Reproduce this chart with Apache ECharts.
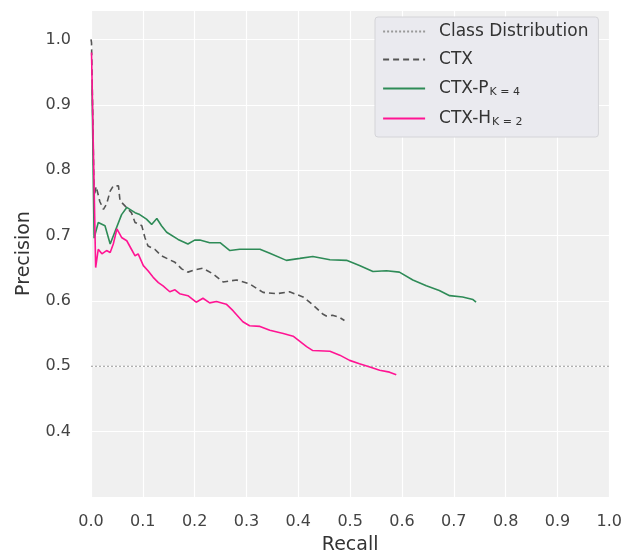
<!DOCTYPE html>
<html lang="en">
<head>
    <meta charset="UTF-8">
    <title>Precision-Recall</title>
    <script src="https://cdn.jsdelivr.net/npm/echarts@6/dist/echarts.min.js"></script>
</head>
<body style="margin:0;background:#fff;">
<div id="main" style="width: 625px;height:560px;"></div>
<script>
    // class distribution (baseline)
    var baseRecall = [0, 1];
    var basePrec = [0.5, 0.5];

    // CTX
    var ctxRecall = [0.0, 0.001, 0.006, 0.010, 0.017, 0.024, 0.030, 0.037, 0.043, 0.053, 0.056, 0.066, 0.078, 0.085, 0.098, 0.104, 0.110, 0.123, 0.136, 0.149, 0.162, 0.175, 0.187, 0.203, 0.216, 0.236, 0.255, 0.281, 0.306, 0.332, 0.358, 0.383, 0.409, 0.428, 0.447, 0.454, 0.466, 0.479, 0.489];
    var ctxPrec = [1.0, 0.995, 0.76, 0.775, 0.752, 0.74, 0.748, 0.768, 0.776, 0.776, 0.753, 0.745, 0.735, 0.72, 0.715, 0.697, 0.684, 0.679, 0.669, 0.664, 0.659, 0.649, 0.644, 0.648, 0.65, 0.641, 0.629, 0.632, 0.626, 0.613, 0.611, 0.614, 0.606, 0.594, 0.58, 0.577, 0.578, 0.575, 0.57];

    // CTX-P (K=4)
    var pRecall = [0.002, 0.006, 0.014, 0.027, 0.037, 0.059, 0.069, 0.085, 0.094, 0.107, 0.117, 0.127, 0.136, 0.146, 0.168, 0.187, 0.200, 0.210, 0.229, 0.249, 0.268, 0.287, 0.326, 0.345, 0.377, 0.403, 0.428, 0.461, 0.493, 0.518, 0.544, 0.570, 0.595, 0.621, 0.647, 0.672, 0.692, 0.717, 0.737, 0.743];
    var pPrec = [0.93, 0.696, 0.72, 0.715, 0.687, 0.732, 0.743, 0.735, 0.732, 0.725, 0.717, 0.726, 0.715, 0.705, 0.694, 0.687, 0.693, 0.693, 0.689, 0.689, 0.677, 0.679, 0.679, 0.673, 0.662, 0.665, 0.668, 0.663, 0.662, 0.654, 0.645, 0.646, 0.644, 0.632, 0.623, 0.616, 0.608, 0.606, 0.602, 0.598];

    // CTX-H (K=2)
    var hRecall = [0.001, 0.009, 0.014, 0.021, 0.030, 0.037, 0.043, 0.050, 0.059, 0.069, 0.078, 0.085, 0.091, 0.101, 0.110, 0.120, 0.130, 0.139, 0.152, 0.162, 0.171, 0.187, 0.203, 0.216, 0.229, 0.242, 0.261, 0.274, 0.293, 0.306, 0.326, 0.345, 0.371, 0.390, 0.403, 0.416, 0.428, 0.461, 0.480, 0.499, 0.518, 0.538, 0.557, 0.576, 0.589];
    var hPrec = [0.98, 0.651, 0.679, 0.672, 0.677, 0.674, 0.687, 0.71, 0.697, 0.692, 0.679, 0.669, 0.672, 0.654, 0.646, 0.636, 0.628, 0.623, 0.614, 0.617, 0.611, 0.608, 0.598, 0.604, 0.597, 0.599, 0.595, 0.585, 0.568, 0.562, 0.561, 0.555, 0.55, 0.546, 0.538, 0.530, 0.524, 0.523, 0.517, 0.509, 0.504, 0.499, 0.494, 0.491, 0.487];

    var yTicks = [0.4, 0.5, 0.6, 0.7, 0.8, 0.9, 1.0];

    function pairs(xs, ys) {
        return xs.map(function (x, i) { return [x, ys[i]]; });
    }

    var myChart = echarts.init(document.getElementById('main'));

    var font = 'DejaVu Sans, sans-serif';

    var option = {
        backgroundColor: '#fff',
        animation: false,
        grid: {
            left: 91, right: 15, top: 10, bottom: 61,
            show: true, backgroundColor: '#f0f0f0', borderWidth: 0
        },
        legend: {
            orient: 'vertical',
            left: 375, top: 17,
            padding: [6, 10, 9, 7],
            backgroundColor: '#eaeaef',
            borderColor: '#d4d4d8',
            borderWidth: 1,
            borderRadius: 3,
            itemWidth: 42,
            itemHeight: 14,
            itemGap: 11,
            itemStyle: { opacity: 0 },
            lineStyle: { width: 2.2 },
            data: ['Class Distribution', 'CTX', 'CTX-P', 'CTX-H'],
            formatter: function (name) {
                if (name === 'CTX-P') return '{m|CTX-P}{s|K = 4}';
                if (name === 'CTX-H') return '{m|CTX-H}{s|K = 2}';
                return '{m|' + name + '}';
            },
            textStyle: {
                fontFamily: font,
                color: '#333',
                rich: {
                    m: { fontFamily: font, fontSize: 17, lineHeight: 20, color: '#333', padding: [0, 0, 0, 9] },
                    s: { fontFamily: font, fontSize: 11, lineHeight: 20, color: '#333', padding: [8, 0, 0, 1] }
                }
            }
        },
        xAxis: {
            type: 'value',
            min: 0, max: 1, interval: 0.1,
            name: 'Recall',
            nameLocation: 'middle',
            nameGap: 39,
            nameTextStyle: { fontFamily: font, fontSize: 19, color: '#333' },
            axisLine: { show: false },
            axisTick: { show: false },
            axisLabel: {
                margin: 17, fontFamily: font, fontSize: 16, color: '#444',
                formatter: function (v) { return v.toFixed(1); }
            },
            splitLine: { show: true, lineStyle: { color: '#fff', width: 1.2 } }
        },
        yAxis: {
            type: 'value',
            min: 0.3, max: 1.045, interval: 0.1,
            name: 'Precision',
            nameLocation: 'middle',
            nameGap: 57,
            nameTextStyle: { fontFamily: font, fontSize: 19, color: '#333' },
            axisLine: { show: false },
            axisTick: { show: false },
            axisLabel: {
                margin: 20, fontFamily: font, fontSize: 16, color: '#444',
                showMaxLabel: false,
                formatter: function (v) {
                    var r = Math.round(v * 10) / 10;
                    return yTicks.indexOf(r) >= 0 && Math.abs(v - r) < 1e-6 ? r.toFixed(1) : '';
                }
            },
            splitLine: { show: true, lineStyle: { color: '#fff', width: 1.2 } }
        },
        series: [
            {
                name: 'Class Distribution',
                type: 'line',
                data: pairs(baseRecall, basePrec),
                symbol: 'none',
                lineStyle: { color: '#999', width: 1, type: [2, 2] },
                itemStyle: { color: '#999' }
            },
            {
                name: 'CTX',
                type: 'line',
                data: pairs(ctxRecall, ctxPrec),
                symbol: 'none',
                lineStyle: { color: '#555', width: 1.6, type: [6, 4] },
                itemStyle: { color: '#555' }
            },
            {
                name: 'CTX-P',
                type: 'line',
                data: pairs(pRecall, pPrec),
                symbol: 'none',
                lineStyle: { color: '#2e8b57', width: 1.6 },
                itemStyle: { color: '#2e8b57' }
            },
            {
                name: 'CTX-H',
                type: 'line',
                data: pairs(hRecall, hPrec),
                symbol: 'none',
                lineStyle: { color: '#ff1493', width: 1.6 },
                itemStyle: { color: '#ff1493' }
            }
        ]
    };
    myChart.setOption(option);
</script>
</body>
</html>
